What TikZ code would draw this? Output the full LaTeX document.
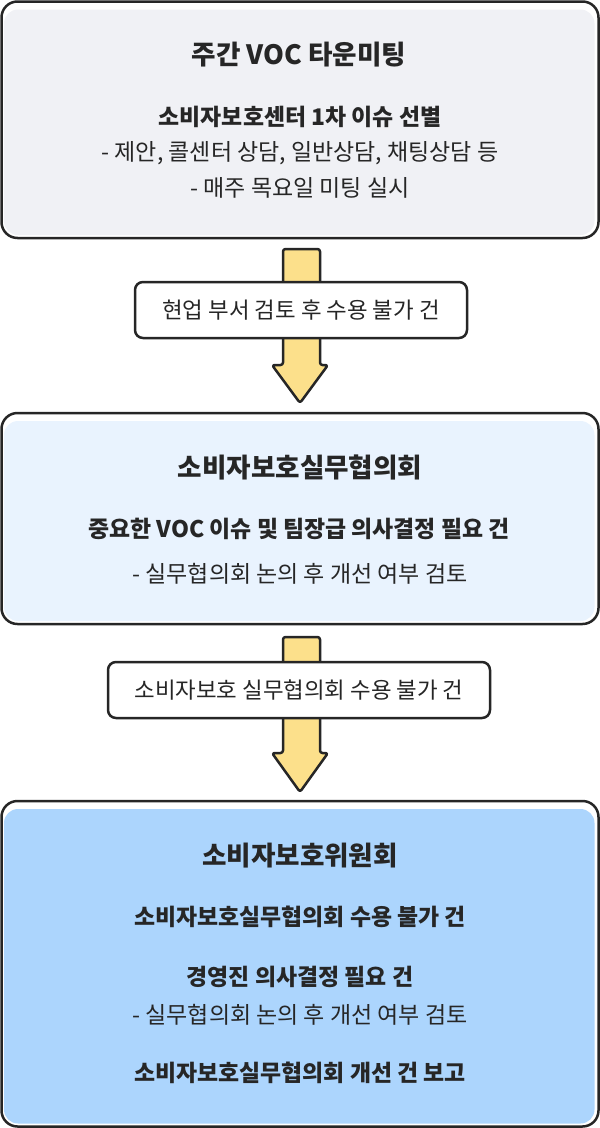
\documentclass[tikz,border=0pt]{standalone}
\usepackage{fontspec}
\setmainfont{Noto Sans CJK KR}
\usetikzlibrary{calc,backgrounds}

\definecolor{ink}{HTML}{262626}
\definecolor{greyfill}{HTML}{F0F1F5}
\definecolor{palefill}{HTML}{E9F3FE}
\definecolor{bluefill}{HTML}{ACD5FD}
\definecolor{arrowfill}{HTML}{FCE08B}

\begin{document}
\begin{tikzpicture}[x=1pt,y=-1pt,
  stage/.style={draw=ink, line width=2.5pt, rounded corners=16pt, inner sep=0pt,
                outer sep=0pt, anchor=north west},
  tag/.style={draw=ink, fill=white, line width=2.5pt, rounded corners=8pt,
              inner sep=0pt, outer sep=0pt, text=ink,
              font=\fontsize{22.4}{26}\selectfont},
  blockarrow/.style={draw=ink, fill=arrowfill, line width=2.5pt,
                     rounded corners=2.5pt, line join=round},
  headline/.style={inner sep=0pt, text=ink, font=\fontsize{26.6}{30}\selectfont\bfseries},
  subline/.style={inner sep=0pt, text=ink, font=\fontsize{22.9}{27}\selectfont\bfseries},
  plainline/.style={inner sep=0pt, text=ink, font=\fontsize{23}{27}\selectfont},
]
\useasboundingbox (0,0) rectangle (600,1128);

% three stage boxes
\node[stage, minimum width=597pt, minimum height=236.5pt] (b1) at (1.5,1.5) {};
\node[stage, minimum width=597pt, minimum height=211pt]   (b2) at (1.5,413) {};
\node[stage, minimum width=597pt, minimum height=325.5pt] (b3) at (1.5,801) {};

% inner fills, set slightly inside the outlines
\begin{scope}[on background layer]
  \fill[greyfill, rounded corners=14pt] ($(b1.north west)+(2.5,8)$) rectangle ($(b1.south east)+(-4,-3)$);
  \fill[palefill, rounded corners=14pt] ($(b2.north west)+(2.5,8)$) rectangle ($(b2.south east)+(-4,-3)$);
  \fill[bluefill, rounded corners=14pt] ($(b3.north west)+(2.5,8)$) rectangle ($(b3.south east)+(-4,-3)$);
\end{scope}

% block arrows between the stages
\path (b1.south) ++(1.5,11) coordinate (a1s);
\path (b2.north) ++(0,-10) coordinate (a1t);
\draw[blockarrow] ($(a1s)+(-18.5,0)$) -- ($(a1s)+(18.5,0)$) -- ($(a1t)+(20,-38)$)
  -- ($(a1t)+(28,-38)$) -- (a1t) -- ($(a1t)+(-28,-38)$) -- ($(a1t)+(-17,-38)$) -- cycle;

\path (b2.south) ++(1.5,13) coordinate (a2s);
\path (b3.north) ++(0,-9) coordinate (a2t);
\draw[blockarrow] ($(a2s)+(-18.5,0)$) -- ($(a2s)+(18.5,0)$) -- ($(a2t)+(20,-39)$)
  -- ($(a2t)+(28,-39)$) -- (a2t) -- ($(a2t)+(-28,-39)$) -- ($(a2t)+(-17,-39)$) -- cycle;

% labels laid over the arrow shafts
\node[tag, minimum width=332pt, minimum height=56pt] (l1) at (301,310) {현업 부서 검토 후 수용 불가 건};
\node[tag, minimum width=382pt, minimum height=56pt] (l2) at (299,690) {소비자보호 실무협의회 수용 불가 건};

% stage 1 text
\node[headline]  (t11) at (299,55)  {주간 VOC 타운미팅};
\node[subline]   (t12) at (300,117) {소비자보호센터 1차 이슈 선별};
\node[plainline] (t13) at (300,153) {- 제안, 콜센터 상담, 일반상담, 채팅상담 등};
\node[plainline] (t14) at (300,188) {- 매주 목요일 미팅 실시};

% stage 2 text
\node[headline]  (t21) at (300,467) {소비자보호실무협의회};
\node[subline]   (t22) at (299,529) {중요한 VOC 이슈 및 팀장급 의사결정 필요 건};
\node[plainline] (t23) at (300,574) {- 실무협의회 논의 후 개선 여부 검토};

% stage 3 text
\node[headline]  (t31) at (300,856)  {소비자보호위원회};
\node[subline]   (t32) at (300,917)  {소비자보호실무협의회 수용 불가 건};
\node[subline]   (t33) at (300,977)  {경영진 의사결정 필요 건};
\node[plainline] (t34) at (300,1015) {- 실무협의회 논의 후 개선 여부 검토};
\node[subline]   (t35) at (300,1073) {소비자보호실무협의회 개선 건 보고};
\end{tikzpicture}
\end{document}
